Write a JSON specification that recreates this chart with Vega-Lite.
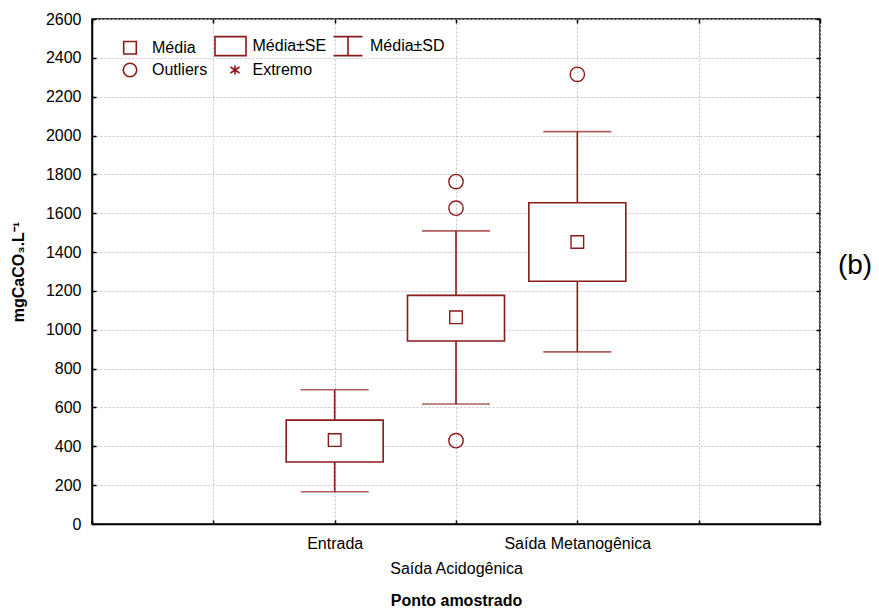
{
  "$schema": "https://vega.github.io/schema/vega-lite/v6.json",
  "width": 728,
  "height": 505,
  "autosize": "none",
  "padding": {"left": 92, "top": 19, "right": 59, "bottom": 86},
  "background": "white",
  "config": {
    "font": "Liberation Sans",
    "view": {"stroke": "black", "strokeWidth": 1.5},
    "axis": {
      "labelFont": "Liberation Sans",
      "labelFontSize": 16,
      "labelColor": "black",
      "titleFont": "Liberation Sans",
      "titleColor": "black",
      "titleFontSize": 16,
      "titleFontWeight": "bold",
      "domainColor": "black",
      "domainWidth": 1.5,
      "tickColor": "black",
      "tickWidth": 1.5,
      "tickSize": -4,
      "labelPadding": 15,
      "gridColor": "#c4c4c4",
      "gridDash": [2, 2],
      "gridWidth": 1
    }
  },
  "title": {
    "text": "(b)",
    "orient": "right",
    "angle": 0,
    "anchor": "middle",
    "align": "left",
    "baseline": "middle",
    "fontSize": 28,
    "fontWeight": "normal",
    "font": "Liberation Sans",
    "color": "black",
    "offset": -17,
    "dy": -6
  },
  "datasets": {
    "summary": [
      {"group": "Entrada", "mean": 432, "se_lo": 319, "se_hi": 535, "sd_lo": 166, "sd_hi": 691},
      {"group": "Saída Acidogênica", "mean": 1064, "se_lo": 942, "se_hi": 1177, "sd_lo": 618, "sd_hi": 1509},
      {"group": "Saída Metanogênica", "mean": 1452, "se_lo": 1250, "se_hi": 1654, "sd_lo": 886, "sd_hi": 2020}
    ],
    "outliers": [
      {"group": "Saída Acidogênica", "value": 1763},
      {"group": "Saída Acidogênica", "value": 1626},
      {"group": "Saída Acidogênica", "value": 429},
      {"group": "Saída Metanogênica", "value": 2315}
    ]
  },
  "layer": [
    {
      "data": {"name": "summary"},
      "mark": {"type": "rule", "color": "#8b1a1a", "strokeWidth": 1.6},
      "encoding": {
        "x": {
          "field": "group",
          "type": "nominal",
          "scale": {"type": "point", "domain": ["p0", "p1", "Entrada", "Saída Acidogênica", "Saída Metanogênica", "p5", "p6"], "padding": 0},
          "axis": {
            "orient": "bottom",
            "title": "Ponto amostrado",
            "titlePadding": 16,
            "labelAngle": 0,
            "labelOverlap": false,
            "labelFlush": false,
            "labelBound": false,
            "labelLimit": 0,
            "labelLineHeight": 25,
            "labelBaseline": "top",
            "labelExpr": "test(/^p[0-9]$/, datum.value) ? '' : (datum.value == 'Saída Acidogênica' ? ['', datum.value] : datum.value)",
            "grid": true
          }
        },
        "y": {
          "field": "sd_lo",
          "type": "quantitative",
          "scale": {"domain": [0, 2600], "nice": false, "zero": false},
          "axis": {
            "orient": "left",
            "title": "mgCaCO₃.L⁻¹",
            "titlePadding": 19,
            "format": "d",
            "values": [0, 200, 400, 600, 800, 1000, 1200, 1400, 1600, 1800, 2000, 2200, 2400, 2600],
            "grid": true
          }
        },
        "y2": {"field": "sd_hi"}
      }
    },
    {
      "data": {"name": "summary"},
      "mark": {"type": "tick", "color": "#8b1a1a", "thickness": 1.6, "size": 68},
      "encoding": {
        "x": {
          "field": "group",
          "type": "nominal",
          "scale": {"type": "point", "domain": ["p0", "p1", "Entrada", "Saída Acidogênica", "Saída Metanogênica", "p5", "p6"], "padding": 0},
          "axis": {"orient": "top", "labels": false, "title": null, "grid": false, "domain": false}
        },
        "y": {
          "field": "sd_hi",
          "type": "quantitative",
          "scale": {"domain": [0, 2600], "nice": false, "zero": false},
          "axis": {"orient": "right", "labels": false, "title": null, "grid": false, "domain": false,
                   "values": [0, 200, 400, 600, 800, 1000, 1200, 1400, 1600, 1800, 2000, 2200, 2400, 2600]}
        }
      }
    },
    {
      "data": {"name": "summary"},
      "mark": {"type": "tick", "color": "#8b1a1a", "thickness": 1.6, "size": 68},
      "encoding": {
        "x": {"field": "group", "type": "nominal", "axis": null},
        "y": {"field": "sd_lo", "type": "quantitative", "scale": {"domain": [0, 2600], "nice": false, "zero": false}, "axis": null}
      }
    },
    {
      "data": {"name": "summary"},
      "mark": {"type": "bar", "width": 97, "fill": "white", "stroke": "#8b1a1a", "strokeWidth": 1.6},
      "encoding": {
        "x": {"field": "group", "type": "nominal", "axis": null},
        "y": {"field": "se_lo", "type": "quantitative", "scale": {"domain": [0, 2600], "nice": false, "zero": false}, "axis": null},
        "y2": {"field": "se_hi"}
      }
    },
    {
      "data": {"name": "summary"},
      "mark": {"type": "point", "filled": false, "stroke": "#8b1a1a", "strokeWidth": 1.4, "size": 400, "opacity": 1},
      "encoding": {
        "x": {"field": "group", "type": "nominal", "axis": null},
        "y": {"field": "mean", "type": "quantitative", "scale": {"domain": [0, 2600], "nice": false, "zero": false}, "axis": null},
        "shape": {
          "datum": "Média",
          "scale": {
            "domain": ["Média", "Média±SE", "Média±SD", "Outliers", "Extremo"],
            "range": [
              "M-0.63,-0.63H0.63V0.63H-0.63Z",
              "M-1.55,-0.95H1.55V0.95H-1.55Z",
              "M-1.45,-0.95H1.45M0,-0.95V0.95M-1.45,0.95H1.45",
              "M0.67,0A0.67,0.67 0 1,1 -0.67,0A0.67,0.67 0 1,1 0.67,0Z",
              "M0.45,-0.45V0.45M0,-0.3L0.9,0.3M0,0.3L0.9,-0.3"
            ]
          },
          "legend": {
            "orient": "none",
            "legendX": 27,
            "legendY": 16,
            "title": null,
            "columns": 3,
            "direction": "horizontal",
            "symbolSize": 400,
            "symbolStrokeColor": "#8b1a1a",
            "symbolFillColor": "transparent",
            "symbolStrokeWidth": 1.6,
            "symbolOpacity": 1,
            "labelFontSize": 16,
            "labelFont": "Liberation Sans",
            "labelColor": "black",
            "labelOffset": 11,
            "labelLimit": 0,
            "columnPadding": 3.5,
            "rowPadding": 0,
            "padding": 0,
            "offset": 0
          }
        }
      }
    },
    {
      "data": {"name": "outliers"},
      "mark": {"type": "point", "filled": false, "stroke": "#8b1a1a", "strokeWidth": 1.4, "size": 460, "opacity": 1},
      "encoding": {
        "x": {"field": "group", "type": "nominal", "axis": null},
        "y": {"field": "value", "type": "quantitative", "scale": {"domain": [0, 2600], "nice": false, "zero": false}, "axis": null},
        "shape": {
          "datum": "Outliers",
          "scale": {
            "domain": ["Média", "Média±SE", "Média±SD", "Outliers", "Extremo"],
            "range": [
              "M-0.63,-0.63H0.63V0.63H-0.63Z",
              "M-1.55,-0.95H1.55V0.95H-1.55Z",
              "M-1.45,-0.95H1.45M0,-0.95V0.95M-1.45,0.95H1.45",
              "M0.67,0A0.67,0.67 0 1,1 -0.67,0A0.67,0.67 0 1,1 0.67,0Z",
              "M0.45,-0.45V0.45M0,-0.3L0.9,0.3M0,0.3L0.9,-0.3"
            ]
          }
        }
      }
    }
  ],
  "resolve": {"axis": {"x": "independent", "y": "independent"}}
}
